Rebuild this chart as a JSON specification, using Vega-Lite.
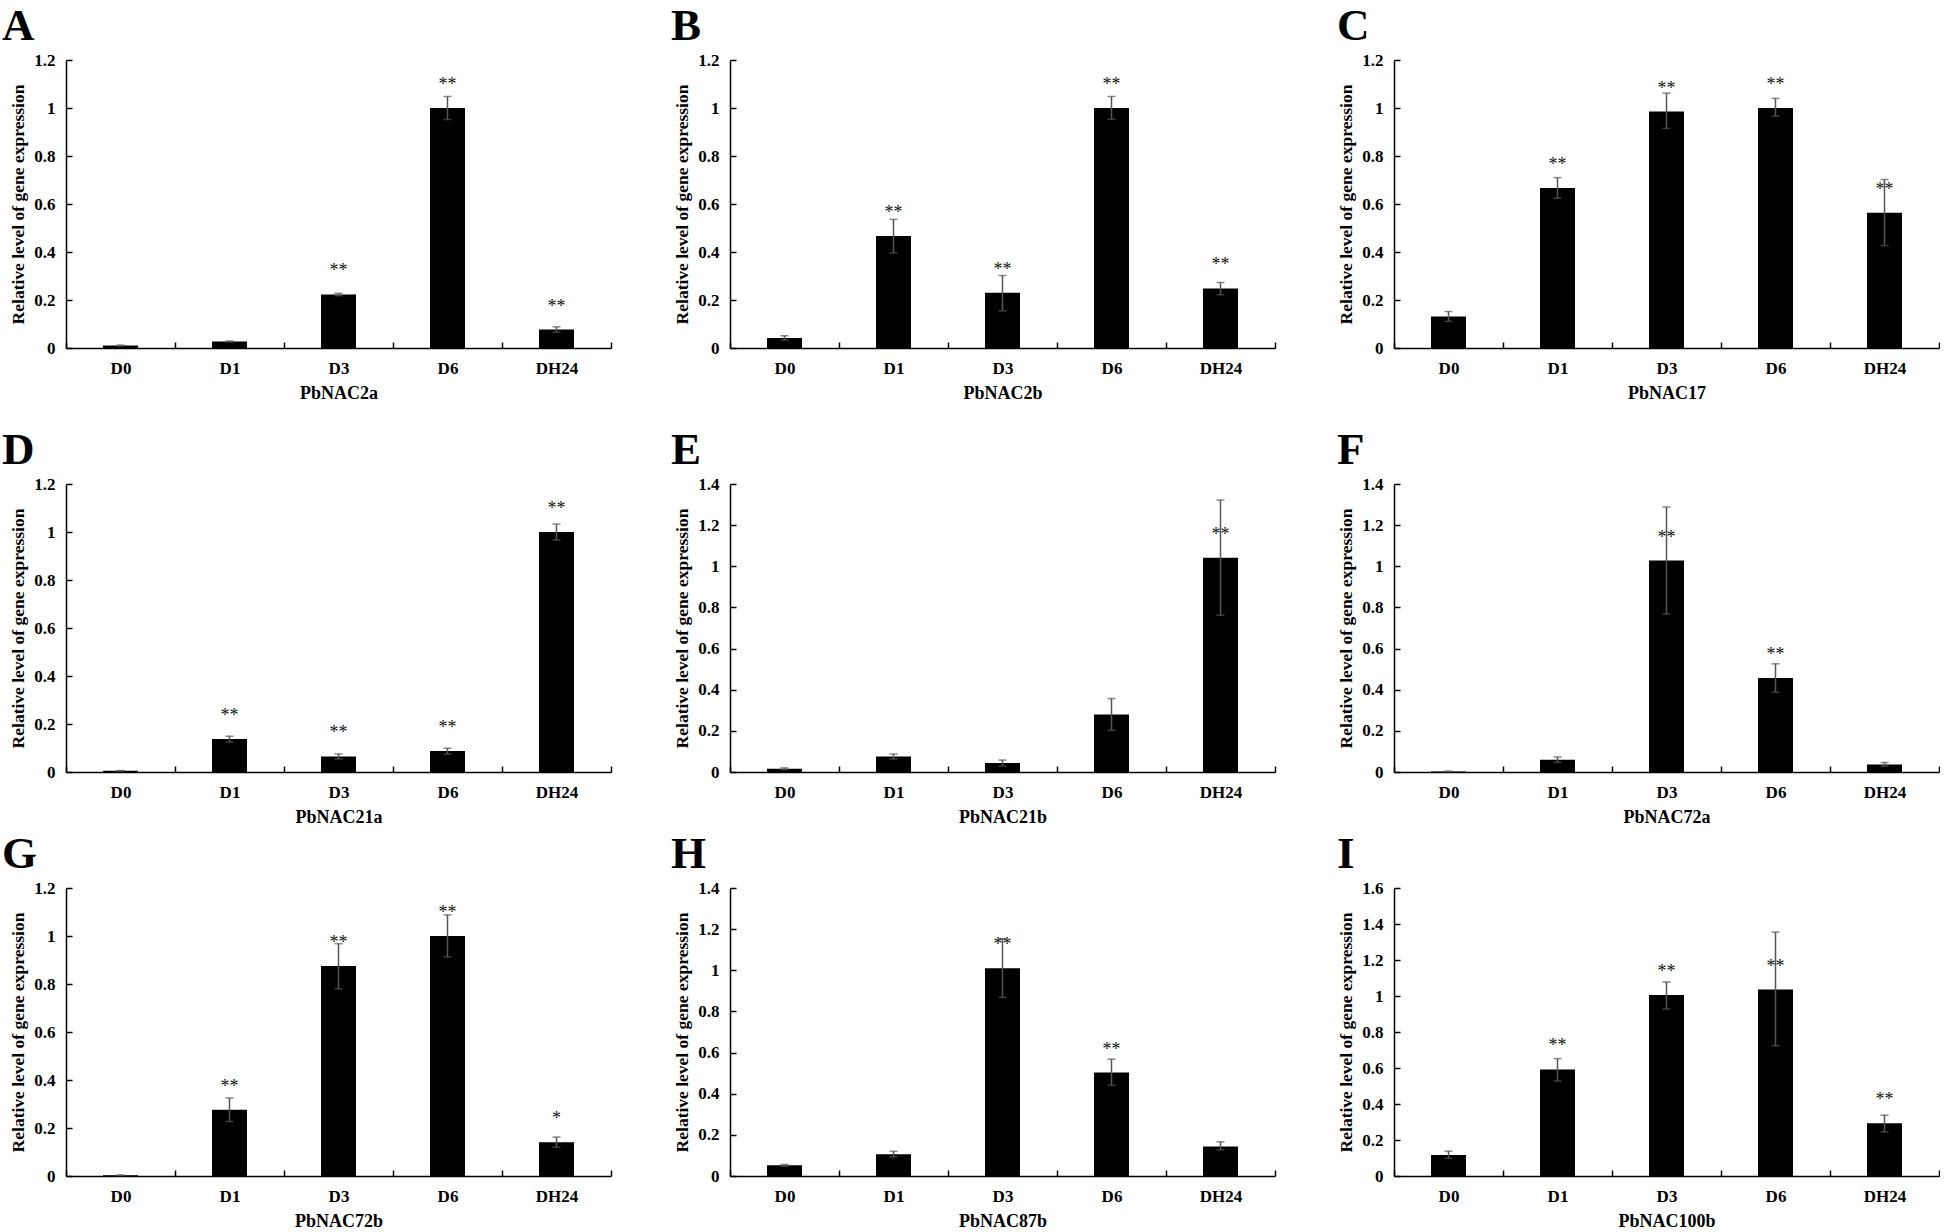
{
  "$schema": "https://vega.github.io/schema/vega-lite/v6.json",
  "padding": {"left": 2, "top": 4, "right": 0, "bottom": 0},
  "background": "white",
  "datasets": {
    "expr": [
      {"panel": "A", "day": "D0", "value": 0.010, "lo": 0.008, "hi": 0.012, "sig": ""},
      {"panel": "A", "day": "D1", "value": 0.027, "lo": 0.025, "hi": 0.029, "sig": ""},
      {"panel": "A", "day": "D3", "value": 0.223, "lo": 0.218, "hi": 0.228, "sig": "**"},
      {"panel": "A", "day": "D6", "value": 1.000, "lo": 0.952, "hi": 1.048, "sig": "**"},
      {"panel": "A", "day": "DH24", "value": 0.077, "lo": 0.066, "hi": 0.088, "sig": "**"},
      {"panel": "B", "day": "D0", "value": 0.042, "lo": 0.033, "hi": 0.051, "sig": ""},
      {"panel": "B", "day": "D1", "value": 0.467, "lo": 0.396, "hi": 0.536, "sig": "**"},
      {"panel": "B", "day": "D3", "value": 0.230, "lo": 0.155, "hi": 0.302, "sig": "**"},
      {"panel": "B", "day": "D6", "value": 1.000, "lo": 0.953, "hi": 1.048, "sig": "**"},
      {"panel": "B", "day": "DH24", "value": 0.248, "lo": 0.222, "hi": 0.273, "sig": "**"},
      {"panel": "C", "day": "D0", "value": 0.131, "lo": 0.111, "hi": 0.152, "sig": ""},
      {"panel": "C", "day": "D1", "value": 0.667, "lo": 0.624, "hi": 0.710, "sig": "**"},
      {"panel": "C", "day": "D3", "value": 0.985, "lo": 0.915, "hi": 1.062, "sig": "**"},
      {"panel": "C", "day": "D6", "value": 1.000, "lo": 0.966, "hi": 1.040, "sig": "**"},
      {"panel": "C", "day": "DH24", "value": 0.564, "lo": 0.427, "hi": 0.702, "sig": "**"},
      {"panel": "D", "day": "D0", "value": 0.005, "lo": 0.004, "hi": 0.006, "sig": ""},
      {"panel": "D", "day": "D1", "value": 0.137, "lo": 0.125, "hi": 0.149, "sig": "**"},
      {"panel": "D", "day": "D3", "value": 0.065, "lo": 0.054, "hi": 0.075, "sig": "**"},
      {"panel": "D", "day": "D6", "value": 0.087, "lo": 0.075, "hi": 0.099, "sig": "**"},
      {"panel": "D", "day": "DH24", "value": 1.000, "lo": 0.967, "hi": 1.033, "sig": "**"},
      {"panel": "E", "day": "D0", "value": 0.016, "lo": 0.012, "hi": 0.020, "sig": ""},
      {"panel": "E", "day": "D1", "value": 0.075, "lo": 0.063, "hi": 0.087, "sig": ""},
      {"panel": "E", "day": "D3", "value": 0.044, "lo": 0.029, "hi": 0.058, "sig": ""},
      {"panel": "E", "day": "D6", "value": 0.279, "lo": 0.203, "hi": 0.357, "sig": ""},
      {"panel": "E", "day": "DH24", "value": 1.042, "lo": 0.762, "hi": 1.322, "sig": "**"},
      {"panel": "F", "day": "D0", "value": 0.003, "lo": 0.002, "hi": 0.004, "sig": ""},
      {"panel": "F", "day": "D1", "value": 0.060, "lo": 0.047, "hi": 0.073, "sig": ""},
      {"panel": "F", "day": "D3", "value": 1.028, "lo": 0.768, "hi": 1.288, "sig": "**"},
      {"panel": "F", "day": "D6", "value": 0.457, "lo": 0.388, "hi": 0.526, "sig": "**"},
      {"panel": "F", "day": "DH24", "value": 0.037, "lo": 0.028, "hi": 0.046, "sig": ""},
      {"panel": "G", "day": "D0", "value": 0.003, "lo": 0.002, "hi": 0.004, "sig": ""},
      {"panel": "G", "day": "D1", "value": 0.276, "lo": 0.227, "hi": 0.325, "sig": "**"},
      {"panel": "G", "day": "D3", "value": 0.875, "lo": 0.780, "hi": 0.968, "sig": "**"},
      {"panel": "G", "day": "D6", "value": 1.000, "lo": 0.913, "hi": 1.088, "sig": "**"},
      {"panel": "G", "day": "DH24", "value": 0.141, "lo": 0.120, "hi": 0.162, "sig": "*"},
      {"panel": "H", "day": "D0", "value": 0.052, "lo": 0.047, "hi": 0.056, "sig": ""},
      {"panel": "H", "day": "D1", "value": 0.106, "lo": 0.093, "hi": 0.120, "sig": ""},
      {"panel": "H", "day": "D3", "value": 1.010, "lo": 0.868, "hi": 1.154, "sig": "**"},
      {"panel": "H", "day": "D6", "value": 0.503, "lo": 0.441, "hi": 0.568, "sig": "**"},
      {"panel": "H", "day": "DH24", "value": 0.143, "lo": 0.127, "hi": 0.166, "sig": ""},
      {"panel": "I", "day": "D0", "value": 0.117, "lo": 0.098, "hi": 0.138, "sig": ""},
      {"panel": "I", "day": "D1", "value": 0.592, "lo": 0.528, "hi": 0.652, "sig": "**"},
      {"panel": "I", "day": "D3", "value": 1.006, "lo": 0.928, "hi": 1.078, "sig": "**"},
      {"panel": "I", "day": "D6", "value": 1.036, "lo": 0.724, "hi": 1.355, "sig": "**"},
      {"panel": "I", "day": "DH24", "value": 0.293, "lo": 0.245, "hi": 0.338, "sig": "**"}
    ]
  },
  "spacing": 26,
  "vconcat": [
    {
      "spacing": 119,
      "bounds": "flush",
      "hconcat": [
        {
          "title": {"text": "A", "dx": -64},
          "width": 545, "height": 288,
          "data": {"name": "expr"},
          "transform": [{"filter": "datum.panel == 'A'"}],
          "encoding": {"x": {"field": "day", "type": "nominal", "sort": ["D0", "D1", "D3", "D6", "DH24"], "scale": {"paddingInner": 0, "paddingOuter": 0}, "axis": {"title": "PbNAC2a"}}},
          "layer": [
            {"mark": {"type": "bar", "width": 35, "color": "black"}, "encoding": {"y": {"field": "value", "type": "quantitative", "scale": {"domain": [0, 1.2], "nice": false}, "axis": {"title": "Relative level of gene expression", "values": [0, 0.2, 0.4, 0.6, 0.8, 1, 1.2], "format": ".1~f"}}}},
            {"mark": {"type": "rule", "color": "#555555", "strokeWidth": 1.5}, "encoding": {"y": {"field": "lo", "type": "quantitative", "axis": {"title": "Relative level of gene expression", "values": [0, 0.2, 0.4, 0.6, 0.8, 1, 1.2], "format": ".1~f"}}, "y2": {"field": "hi"}}},
            {"mark": {"type": "tick", "color": "#555555", "size": 8, "thickness": 1.5}, "encoding": {"y": {"field": "hi", "type": "quantitative", "axis": {"title": "Relative level of gene expression", "values": [0, 0.2, 0.4, 0.6, 0.8, 1, 1.2], "format": ".1~f"}}}},
            {"mark": {"type": "tick", "color": "#555555", "size": 8, "thickness": 1.5}, "encoding": {"y": {"field": "lo", "type": "quantitative", "axis": {"title": "Relative level of gene expression", "values": [0, 0.2, 0.4, 0.6, 0.8, 1, 1.2], "format": ".1~f"}}}},
            {"transform": [{"filter": "datum.sig != ''"}], "mark": {"type": "text", "dy": -23, "baseline": "middle", "font": "Liberation Serif", "fontSize": 18, "color": "#111111"}, "encoding": {"y": {"field": "value", "type": "quantitative", "axis": {"title": "Relative level of gene expression", "values": [0, 0.2, 0.4, 0.6, 0.8, 1, 1.2], "format": ".1~f"}}, "text": {"field": "sig"}}}
          ]
        },
        {
          "title": {"text": "B", "dx": -59},
          "width": 545, "height": 288,
          "data": {"name": "expr"},
          "transform": [{"filter": "datum.panel == 'B'"}],
          "encoding": {"x": {"field": "day", "type": "nominal", "sort": ["D0", "D1", "D3", "D6", "DH24"], "scale": {"paddingInner": 0, "paddingOuter": 0}, "axis": {"title": "PbNAC2b"}}},
          "layer": [
            {"mark": {"type": "bar", "width": 35, "color": "black"}, "encoding": {"y": {"field": "value", "type": "quantitative", "scale": {"domain": [0, 1.2], "nice": false}, "axis": {"title": "Relative level of gene expression", "values": [0, 0.2, 0.4, 0.6, 0.8, 1, 1.2], "format": ".1~f"}}}},
            {"mark": {"type": "rule", "color": "#555555", "strokeWidth": 1.5}, "encoding": {"y": {"field": "lo", "type": "quantitative", "axis": {"title": "Relative level of gene expression", "values": [0, 0.2, 0.4, 0.6, 0.8, 1, 1.2], "format": ".1~f"}}, "y2": {"field": "hi"}}},
            {"mark": {"type": "tick", "color": "#555555", "size": 8, "thickness": 1.5}, "encoding": {"y": {"field": "hi", "type": "quantitative", "axis": {"title": "Relative level of gene expression", "values": [0, 0.2, 0.4, 0.6, 0.8, 1, 1.2], "format": ".1~f"}}}},
            {"mark": {"type": "tick", "color": "#555555", "size": 8, "thickness": 1.5}, "encoding": {"y": {"field": "lo", "type": "quantitative", "axis": {"title": "Relative level of gene expression", "values": [0, 0.2, 0.4, 0.6, 0.8, 1, 1.2], "format": ".1~f"}}}},
            {"transform": [{"filter": "datum.sig != ''"}], "mark": {"type": "text", "dy": -23, "baseline": "middle", "font": "Liberation Serif", "fontSize": 18, "color": "#111111"}, "encoding": {"y": {"field": "value", "type": "quantitative", "axis": {"title": "Relative level of gene expression", "values": [0, 0.2, 0.4, 0.6, 0.8, 1, 1.2], "format": ".1~f"}}, "text": {"field": "sig"}}}
          ]
        },
        {
          "title": {"text": "C", "dx": -57},
          "width": 545, "height": 288,
          "data": {"name": "expr"},
          "transform": [{"filter": "datum.panel == 'C'"}],
          "encoding": {"x": {"field": "day", "type": "nominal", "sort": ["D0", "D1", "D3", "D6", "DH24"], "scale": {"paddingInner": 0, "paddingOuter": 0}, "axis": {"title": "PbNAC17"}}},
          "layer": [
            {"mark": {"type": "bar", "width": 35, "color": "black"}, "encoding": {"y": {"field": "value", "type": "quantitative", "scale": {"domain": [0, 1.2], "nice": false}, "axis": {"title": "Relative level of gene expression", "values": [0, 0.2, 0.4, 0.6, 0.8, 1, 1.2], "format": ".1~f"}}}},
            {"mark": {"type": "rule", "color": "#555555", "strokeWidth": 1.5}, "encoding": {"y": {"field": "lo", "type": "quantitative", "axis": {"title": "Relative level of gene expression", "values": [0, 0.2, 0.4, 0.6, 0.8, 1, 1.2], "format": ".1~f"}}, "y2": {"field": "hi"}}},
            {"mark": {"type": "tick", "color": "#555555", "size": 8, "thickness": 1.5}, "encoding": {"y": {"field": "hi", "type": "quantitative", "axis": {"title": "Relative level of gene expression", "values": [0, 0.2, 0.4, 0.6, 0.8, 1, 1.2], "format": ".1~f"}}}},
            {"mark": {"type": "tick", "color": "#555555", "size": 8, "thickness": 1.5}, "encoding": {"y": {"field": "lo", "type": "quantitative", "axis": {"title": "Relative level of gene expression", "values": [0, 0.2, 0.4, 0.6, 0.8, 1, 1.2], "format": ".1~f"}}}},
            {"transform": [{"filter": "datum.sig != ''"}], "mark": {"type": "text", "dy": -23, "baseline": "middle", "font": "Liberation Serif", "fontSize": 18, "color": "#111111"}, "encoding": {"y": {"field": "value", "type": "quantitative", "axis": {"title": "Relative level of gene expression", "values": [0, 0.2, 0.4, 0.6, 0.8, 1, 1.2], "format": ".1~f"}}, "text": {"field": "sig"}}}
          ]
        }
      ]
    },
    {
      "spacing": 6,
      "vconcat": [
        {
          "spacing": 119,
          "bounds": "flush",
          "hconcat": [
            {
              "title": {"text": "D", "dx": -64},
              "width": 545, "height": 288,
              "data": {"name": "expr"},
              "transform": [{"filter": "datum.panel == 'D'"}],
              "encoding": {"x": {"field": "day", "type": "nominal", "sort": ["D0", "D1", "D3", "D6", "DH24"], "scale": {"paddingInner": 0, "paddingOuter": 0}, "axis": {"title": "PbNAC21a"}}},
              "layer": [
                {"mark": {"type": "bar", "width": 35, "color": "black"}, "encoding": {"y": {"field": "value", "type": "quantitative", "scale": {"domain": [0, 1.2], "nice": false}, "axis": {"title": "Relative level of gene expression", "values": [0, 0.2, 0.4, 0.6, 0.8, 1, 1.2], "format": ".1~f"}}}},
                {"mark": {"type": "rule", "color": "#555555", "strokeWidth": 1.5}, "encoding": {"y": {"field": "lo", "type": "quantitative", "axis": {"title": "Relative level of gene expression", "values": [0, 0.2, 0.4, 0.6, 0.8, 1, 1.2], "format": ".1~f"}}, "y2": {"field": "hi"}}},
                {"mark": {"type": "tick", "color": "#555555", "size": 8, "thickness": 1.5}, "encoding": {"y": {"field": "hi", "type": "quantitative", "axis": {"title": "Relative level of gene expression", "values": [0, 0.2, 0.4, 0.6, 0.8, 1, 1.2], "format": ".1~f"}}}},
                {"mark": {"type": "tick", "color": "#555555", "size": 8, "thickness": 1.5}, "encoding": {"y": {"field": "lo", "type": "quantitative", "axis": {"title": "Relative level of gene expression", "values": [0, 0.2, 0.4, 0.6, 0.8, 1, 1.2], "format": ".1~f"}}}},
                {"transform": [{"filter": "datum.sig != ''"}], "mark": {"type": "text", "dy": -23, "baseline": "middle", "font": "Liberation Serif", "fontSize": 18, "color": "#111111"}, "encoding": {"y": {"field": "value", "type": "quantitative", "axis": {"title": "Relative level of gene expression", "values": [0, 0.2, 0.4, 0.6, 0.8, 1, 1.2], "format": ".1~f"}}, "text": {"field": "sig"}}}
              ]
            },
            {
              "title": {"text": "E", "dx": -59},
              "width": 545, "height": 288,
              "data": {"name": "expr"},
              "transform": [{"filter": "datum.panel == 'E'"}],
              "encoding": {"x": {"field": "day", "type": "nominal", "sort": ["D0", "D1", "D3", "D6", "DH24"], "scale": {"paddingInner": 0, "paddingOuter": 0}, "axis": {"title": "PbNAC21b"}}},
              "layer": [
                {"mark": {"type": "bar", "width": 35, "color": "black"}, "encoding": {"y": {"field": "value", "type": "quantitative", "scale": {"domain": [0, 1.4], "nice": false}, "axis": {"title": "Relative level of gene expression", "values": [0, 0.2, 0.4, 0.6, 0.8, 1, 1.2, 1.4], "format": ".1~f"}}}},
                {"mark": {"type": "rule", "color": "#555555", "strokeWidth": 1.5}, "encoding": {"y": {"field": "lo", "type": "quantitative", "axis": {"title": "Relative level of gene expression", "values": [0, 0.2, 0.4, 0.6, 0.8, 1, 1.2, 1.4], "format": ".1~f"}}, "y2": {"field": "hi"}}},
                {"mark": {"type": "tick", "color": "#555555", "size": 8, "thickness": 1.5}, "encoding": {"y": {"field": "hi", "type": "quantitative", "axis": {"title": "Relative level of gene expression", "values": [0, 0.2, 0.4, 0.6, 0.8, 1, 1.2, 1.4], "format": ".1~f"}}}},
                {"mark": {"type": "tick", "color": "#555555", "size": 8, "thickness": 1.5}, "encoding": {"y": {"field": "lo", "type": "quantitative", "axis": {"title": "Relative level of gene expression", "values": [0, 0.2, 0.4, 0.6, 0.8, 1, 1.2, 1.4], "format": ".1~f"}}}},
                {"transform": [{"filter": "datum.sig != ''"}], "mark": {"type": "text", "dy": -23, "baseline": "middle", "font": "Liberation Serif", "fontSize": 18, "color": "#111111"}, "encoding": {"y": {"field": "value", "type": "quantitative", "axis": {"title": "Relative level of gene expression", "values": [0, 0.2, 0.4, 0.6, 0.8, 1, 1.2, 1.4], "format": ".1~f"}}, "text": {"field": "sig"}}}
              ]
            },
            {
              "title": {"text": "F", "dx": -57},
              "width": 545, "height": 288,
              "data": {"name": "expr"},
              "transform": [{"filter": "datum.panel == 'F'"}],
              "encoding": {"x": {"field": "day", "type": "nominal", "sort": ["D0", "D1", "D3", "D6", "DH24"], "scale": {"paddingInner": 0, "paddingOuter": 0}, "axis": {"title": "PbNAC72a"}}},
              "layer": [
                {"mark": {"type": "bar", "width": 35, "color": "black"}, "encoding": {"y": {"field": "value", "type": "quantitative", "scale": {"domain": [0, 1.4], "nice": false}, "axis": {"title": "Relative level of gene expression", "values": [0, 0.2, 0.4, 0.6, 0.8, 1, 1.2, 1.4], "format": ".1~f"}}}},
                {"mark": {"type": "rule", "color": "#555555", "strokeWidth": 1.5}, "encoding": {"y": {"field": "lo", "type": "quantitative", "axis": {"title": "Relative level of gene expression", "values": [0, 0.2, 0.4, 0.6, 0.8, 1, 1.2, 1.4], "format": ".1~f"}}, "y2": {"field": "hi"}}},
                {"mark": {"type": "tick", "color": "#555555", "size": 8, "thickness": 1.5}, "encoding": {"y": {"field": "hi", "type": "quantitative", "axis": {"title": "Relative level of gene expression", "values": [0, 0.2, 0.4, 0.6, 0.8, 1, 1.2, 1.4], "format": ".1~f"}}}},
                {"mark": {"type": "tick", "color": "#555555", "size": 8, "thickness": 1.5}, "encoding": {"y": {"field": "lo", "type": "quantitative", "axis": {"title": "Relative level of gene expression", "values": [0, 0.2, 0.4, 0.6, 0.8, 1, 1.2, 1.4], "format": ".1~f"}}}},
                {"transform": [{"filter": "datum.sig != ''"}], "mark": {"type": "text", "dy": -23, "baseline": "middle", "font": "Liberation Serif", "fontSize": 18, "color": "#111111"}, "encoding": {"y": {"field": "value", "type": "quantitative", "axis": {"title": "Relative level of gene expression", "values": [0, 0.2, 0.4, 0.6, 0.8, 1, 1.2, 1.4], "format": ".1~f"}}, "text": {"field": "sig"}}}
              ]
            }
          ]
        },
        {
          "spacing": 119,
          "bounds": "flush",
          "hconcat": [
            {
              "title": {"text": "G", "dx": -64},
              "width": 545, "height": 288,
              "data": {"name": "expr"},
              "transform": [{"filter": "datum.panel == 'G'"}],
              "encoding": {"x": {"field": "day", "type": "nominal", "sort": ["D0", "D1", "D3", "D6", "DH24"], "scale": {"paddingInner": 0, "paddingOuter": 0}, "axis": {"title": "PbNAC72b"}}},
              "layer": [
                {"mark": {"type": "bar", "width": 35, "color": "black"}, "encoding": {"y": {"field": "value", "type": "quantitative", "scale": {"domain": [0, 1.2], "nice": false}, "axis": {"title": "Relative level of gene expression", "values": [0, 0.2, 0.4, 0.6, 0.8, 1, 1.2], "format": ".1~f"}}}},
                {"mark": {"type": "rule", "color": "#555555", "strokeWidth": 1.5}, "encoding": {"y": {"field": "lo", "type": "quantitative", "axis": {"title": "Relative level of gene expression", "values": [0, 0.2, 0.4, 0.6, 0.8, 1, 1.2], "format": ".1~f"}}, "y2": {"field": "hi"}}},
                {"mark": {"type": "tick", "color": "#555555", "size": 8, "thickness": 1.5}, "encoding": {"y": {"field": "hi", "type": "quantitative", "axis": {"title": "Relative level of gene expression", "values": [0, 0.2, 0.4, 0.6, 0.8, 1, 1.2], "format": ".1~f"}}}},
                {"mark": {"type": "tick", "color": "#555555", "size": 8, "thickness": 1.5}, "encoding": {"y": {"field": "lo", "type": "quantitative", "axis": {"title": "Relative level of gene expression", "values": [0, 0.2, 0.4, 0.6, 0.8, 1, 1.2], "format": ".1~f"}}}},
                {"transform": [{"filter": "datum.sig != ''"}], "mark": {"type": "text", "dy": -23, "baseline": "middle", "font": "Liberation Serif", "fontSize": 18, "color": "#111111"}, "encoding": {"y": {"field": "value", "type": "quantitative", "axis": {"title": "Relative level of gene expression", "values": [0, 0.2, 0.4, 0.6, 0.8, 1, 1.2], "format": ".1~f"}}, "text": {"field": "sig"}}}
              ]
            },
            {
              "title": {"text": "H", "dx": -59},
              "width": 545, "height": 288,
              "data": {"name": "expr"},
              "transform": [{"filter": "datum.panel == 'H'"}],
              "encoding": {"x": {"field": "day", "type": "nominal", "sort": ["D0", "D1", "D3", "D6", "DH24"], "scale": {"paddingInner": 0, "paddingOuter": 0}, "axis": {"title": "PbNAC87b"}}},
              "layer": [
                {"mark": {"type": "bar", "width": 35, "color": "black"}, "encoding": {"y": {"field": "value", "type": "quantitative", "scale": {"domain": [0, 1.4], "nice": false}, "axis": {"title": "Relative level of gene expression", "values": [0, 0.2, 0.4, 0.6, 0.8, 1, 1.2, 1.4], "format": ".1~f"}}}},
                {"mark": {"type": "rule", "color": "#555555", "strokeWidth": 1.5}, "encoding": {"y": {"field": "lo", "type": "quantitative", "axis": {"title": "Relative level of gene expression", "values": [0, 0.2, 0.4, 0.6, 0.8, 1, 1.2, 1.4], "format": ".1~f"}}, "y2": {"field": "hi"}}},
                {"mark": {"type": "tick", "color": "#555555", "size": 8, "thickness": 1.5}, "encoding": {"y": {"field": "hi", "type": "quantitative", "axis": {"title": "Relative level of gene expression", "values": [0, 0.2, 0.4, 0.6, 0.8, 1, 1.2, 1.4], "format": ".1~f"}}}},
                {"mark": {"type": "tick", "color": "#555555", "size": 8, "thickness": 1.5}, "encoding": {"y": {"field": "lo", "type": "quantitative", "axis": {"title": "Relative level of gene expression", "values": [0, 0.2, 0.4, 0.6, 0.8, 1, 1.2, 1.4], "format": ".1~f"}}}},
                {"transform": [{"filter": "datum.sig != ''"}], "mark": {"type": "text", "dy": -23, "baseline": "middle", "font": "Liberation Serif", "fontSize": 18, "color": "#111111"}, "encoding": {"y": {"field": "value", "type": "quantitative", "axis": {"title": "Relative level of gene expression", "values": [0, 0.2, 0.4, 0.6, 0.8, 1, 1.2, 1.4], "format": ".1~f"}}, "text": {"field": "sig"}}}
              ]
            },
            {
              "title": {"text": "I", "dx": -57},
              "width": 545, "height": 288,
              "data": {"name": "expr"},
              "transform": [{"filter": "datum.panel == 'I'"}],
              "encoding": {"x": {"field": "day", "type": "nominal", "sort": ["D0", "D1", "D3", "D6", "DH24"], "scale": {"paddingInner": 0, "paddingOuter": 0}, "axis": {"title": "PbNAC100b"}}},
              "layer": [
                {"mark": {"type": "bar", "width": 35, "color": "black"}, "encoding": {"y": {"field": "value", "type": "quantitative", "scale": {"domain": [0, 1.6], "nice": false}, "axis": {"title": "Relative level of gene expression", "values": [0, 0.2, 0.4, 0.6, 0.8, 1, 1.2, 1.4, 1.6], "format": ".1~f"}}}},
                {"mark": {"type": "rule", "color": "#555555", "strokeWidth": 1.5}, "encoding": {"y": {"field": "lo", "type": "quantitative", "axis": {"title": "Relative level of gene expression", "values": [0, 0.2, 0.4, 0.6, 0.8, 1, 1.2, 1.4, 1.6], "format": ".1~f"}}, "y2": {"field": "hi"}}},
                {"mark": {"type": "tick", "color": "#555555", "size": 8, "thickness": 1.5}, "encoding": {"y": {"field": "hi", "type": "quantitative", "axis": {"title": "Relative level of gene expression", "values": [0, 0.2, 0.4, 0.6, 0.8, 1, 1.2, 1.4, 1.6], "format": ".1~f"}}}},
                {"mark": {"type": "tick", "color": "#555555", "size": 8, "thickness": 1.5}, "encoding": {"y": {"field": "lo", "type": "quantitative", "axis": {"title": "Relative level of gene expression", "values": [0, 0.2, 0.4, 0.6, 0.8, 1, 1.2, 1.4, 1.6], "format": ".1~f"}}}},
                {"transform": [{"filter": "datum.sig != ''"}], "mark": {"type": "text", "dy": -23, "baseline": "middle", "font": "Liberation Serif", "fontSize": 18, "color": "#111111"}, "encoding": {"y": {"field": "value", "type": "quantitative", "axis": {"title": "Relative level of gene expression", "values": [0, 0.2, 0.4, 0.6, 0.8, 1, 1.2, 1.4, 1.6], "format": ".1~f"}}, "text": {"field": "sig"}}}
              ]
            }
          ]
        }
      ]
    }
  ],
  "config": {
    "view": {"stroke": null},
    "font": "Liberation Serif",
    "axis": {
      "labelFont": "Liberation Serif", "labelFontWeight": "bold", "labelFontSize": 17, "labelColor": "black",
      "titleFont": "Liberation Serif", "titleFontWeight": "bold", "titleColor": "black",
      "domainColor": "black", "domainWidth": 1.5, "tickColor": "black", "tickWidth": 1.5, "grid": false
    },
    "axisX": {"labelAngle": 0, "tickBand": "extent", "tickSize": -6, "labelPadding": 18, "titleFontSize": 18, "titlePadding": 8},
    "axisY": {"tickSize": -6, "labelPadding": 17, "titleFontSize": 17.5, "titlePadding": 6},
    "title": {"font": "Liberation Serif", "fontSize": 45, "fontWeight": "bold", "anchor": "start", "frame": "group", "color": "black", "offset": 2}
  }
}
